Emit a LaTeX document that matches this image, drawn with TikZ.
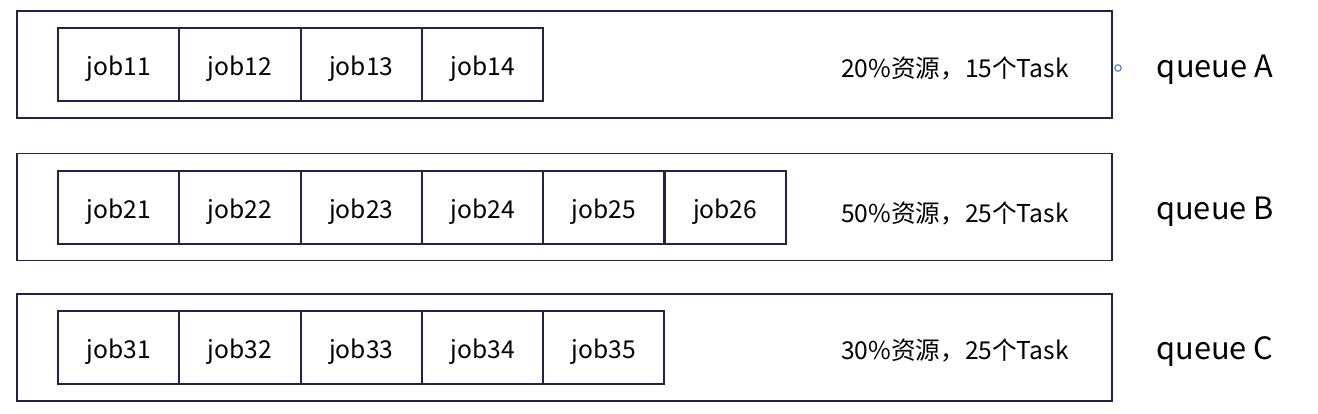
\documentclass[tikz,border=0pt]{standalone}
\usepackage{fontspec}
\setmainfont{Noto Sans CJK SC}
\usetikzlibrary{positioning}
\definecolor{boxline}{RGB}{34,34,74}
\definecolor{handleblue}{RGB}{80,140,225}

\begin{document}
\begin{tikzpicture}[
  x=0.02cm, y=-0.02cm,
  queuebox/.style={draw=boxline, line width=1.1pt, minimum width=21.9cm,
                   minimum height=2.14cm, inner sep=0pt},
  jobbox/.style={draw=boxline, line width=1.1pt, minimum width=2.42cm,
                 minimum height=1.46cm, inner sep=0pt, text height=16pt, text depth=3pt,
                 font=\fontsize{14}{16}\selectfont},
  share/.style={font=\fontsize{14}{16}\selectfont, inner sep=0pt},
  qlabel/.style={font=\fontsize{17.5}{20}\selectfont, inner sep=0pt},
  handle/.style={circle, draw=handleblue, line width=0.7pt, minimum size=0.13cm,
                 inner sep=0pt},
]
\useasboundingbox (0,0) rectangle (1318,413);

% ---- outer queue boxes ----
\node[queuebox] (qA) at (564.5, 64.5) {};
\node[queuebox] (qB) at (564.5, 207) {};
\node[queuebox] (qC) at (564.5, 347.5) {};

% ---- jobs in each queue: row/count/y ----
\foreach \r/\n/\y in {1/4/64.5, 2/6/207.5, 3/5/347.5}
  \foreach \c in {1,...,\n}
    \node[jobbox] (job\r\c) at (58+121.3*\c-60.6, \y) {job\r\c};

% ---- resource shares ----
\node[share] (resA) at (955, 68) {20\%资源，15个Task};
\node[share] (resB) at (955, 213) {50\%资源，25个Task};
\node[share] (resC) at (955, 350) {30\%资源，25个Task};

% ---- queue names ----
\node[handle] (hA) at (1118, 68) {};
\node[qlabel] (labA) at (1215, 70) {queue A};
\node[qlabel] (labB) at (1215, 212) {queue B};
\node[qlabel] (labC) at (1215, 352) {queue C};

\end{tikzpicture}
\end{document}
